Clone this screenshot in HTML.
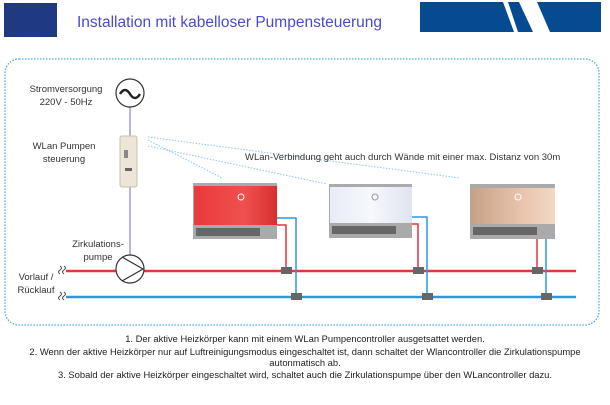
<!DOCTYPE html>
<html><head><meta charset="utf-8"><style>
body{margin:0;width:610px;height:400px;background:#fff;overflow:hidden;font-family:"Liberation Sans",sans-serif}
</style></head><body>
<svg width="610" height="400" viewBox="0 0 610 400" xmlns="http://www.w3.org/2000/svg" font-family="Liberation Sans, sans-serif">
<defs>
<linearGradient id="gr" x1="0" x2="1"><stop offset="0" stop-color="#e83a3a"/><stop offset="0.6" stop-color="#f05050"/><stop offset="1" stop-color="#d83030"/></linearGradient>
<linearGradient id="gw" x1="0" x2="1"><stop offset="0" stop-color="#e8ecf4"/><stop offset="0.5" stop-color="#f6f8fc"/><stop offset="1" stop-color="#dfe4ee"/></linearGradient>
<linearGradient id="gc" x1="0" x2="1"><stop offset="0" stop-color="#c8a088"/><stop offset="0.6" stop-color="#e8c4ac"/><stop offset="1" stop-color="#f2d8c6"/></linearGradient>
</defs>
<rect x="4" y="3" width="53" height="34" fill="#1f3a80"/>
<text x="77" y="27" font-size="15.5" fill="#4a4ad0">Installation mit kabelloser Pumpensteuerung</text>
<polygon points="420,2 503,2 514,32 420,32" fill="#064a92"/>
<polygon points="508,2 519,2 533,32 518,32" fill="#064a92"/>
<polygon points="537,2 601,2 601,32 550,32" fill="#064a92"/>
<rect x="5" y="59" width="594" height="266" rx="14" fill="none" stroke="#4aa8e8" stroke-width="1.3" stroke-dasharray="1.5 1.5"/>
<g stroke="#8cc8e8" stroke-width="1" stroke-dasharray="1.5 1.5" fill="none">
<line x1="148" y1="140" x2="222" y2="178"/>
<line x1="148" y1="146" x2="327" y2="184"/>
<line x1="148" y1="137" x2="460" y2="178"/>
</g>
<text x="245" y="160" font-size="9.5" fill="#333">WLan-Verbindung geht auch durch Wände mit einer max. Distanz von 30m</text>
<g font-size="9.5" fill="#333" text-anchor="middle">
<text x="66" y="92">Stromversorgung</text><text x="66" y="105">220V - 50Hz</text>
<text x="64" y="149">WLan Pumpen</text><text x="64" y="162">steuerung</text>
<text x="98" y="247">Zirkulations-</text><text x="98" y="260">pumpe</text>
<text x="36" y="280">Vorlauf /</text><text x="36" y="293">Rücklauf</text>
</g>
<line x1="130" y1="107" x2="130" y2="255" stroke="#8a80c8" stroke-width="1.2"/>
<circle cx="130" cy="93" r="14" fill="#fff" stroke="#333" stroke-width="1.2"/>
<path d="M120,94 q5,-8 10,0 t10,0" fill="none" stroke="#222" stroke-width="2.5"/>
<rect x="120" y="136" width="17" height="51" rx="2" fill="#ece6d6" stroke="#c8c0b0"/>
<rect x="124" y="150" width="4" height="8" fill="#888"/><rect x="125" y="168" width="7" height="3" fill="#666"/>
<line x1="66" y1="271" x2="576" y2="271" stroke="#e8343a" stroke-width="2.5"/>
<line x1="66" y1="297" x2="576" y2="297" stroke="#2a9ae0" stroke-width="2.5"/>
<g fill="none" stroke="#444" stroke-width="1"><path d="M60,266 q3,2 0,4 q-3,2 0,4 M64,266 q3,2 0,4 q-3,2 0,4"/><path d="M60,292 q3,2 0,4 q-3,2 0,4 M64,292 q3,2 0,4 q-3,2 0,4"/></g>
<circle cx="130" cy="269" r="14" fill="#fff" stroke="#333" stroke-width="1.2"/>
<path d="M122,257 L143,269 L122,281" fill="none" stroke="#333" stroke-width="1.2"/>
<g>
<rect x="193" y="183" width="84" height="56" fill="#aaa"/>
<rect x="194" y="186" width="83" height="39" fill="url(#gr)"/>
<rect x="196" y="228" width="64" height="8" fill="#666"/>
<circle cx="241" cy="197" r="3" fill="none" stroke="#fff"/>
<rect x="329" y="184" width="83" height="54" fill="#aaa"/>
<rect x="330" y="187" width="82" height="36" fill="url(#gw)"/>
<rect x="332" y="226" width="64" height="8" fill="#666"/>
<circle cx="375" cy="197" r="3" fill="none" stroke="#999"/>
<rect x="470" y="184" width="85" height="55" fill="#aaa"/>
<rect x="471" y="188" width="84" height="36" fill="url(#gc)"/>
<rect x="473" y="227" width="64" height="8" fill="#666"/>
<circle cx="518" cy="197" r="3" fill="none" stroke="#fff"/>
</g>
<g fill="none" stroke-width="1.5">
<path d="M277,225 H286 V271" stroke="#e8343a"/><path d="M277,218 H296 V297" stroke="#2a9ae0"/>
<path d="M412,224 H418 V271" stroke="#e8343a"/><path d="M412,217 H427 V297" stroke="#2a9ae0"/>
<path d="M537,239 V271" stroke="#e8343a"/><path d="M546,239 V297" stroke="#2a9ae0"/>
</g>
<g fill="#666">
<rect x="281" y="267" width="11" height="7"/><rect x="291" y="293" width="11" height="7"/>
<rect x="413" y="267" width="11" height="7"/><rect x="422" y="293" width="11" height="7"/>
<rect x="532" y="267" width="11" height="7"/><rect x="541" y="293" width="11" height="7"/>
</g>
<g font-size="9.4" fill="#222" text-anchor="middle">
<text x="305" y="342">1. Der aktive Heizkörper kann mit einem WLan Pumpencontroller ausgetsattet werden.</text>
<text x="305" y="355">2. Wenn der aktive Heizkörper nur auf Luftreinigungsmodus eingeschaltet ist, dann schaltet der Wlancontroller die Zirkulationspumpe</text>
<text x="305" y="366">autonmatisch ab.</text>
<text x="305" y="378">3. Sobald der aktive Heizkörper eingeschaltet wird, schaltet auch die Zirkulationspumpe über den WLancontroller dazu.</text>
</g>
</svg>
</body></html>
